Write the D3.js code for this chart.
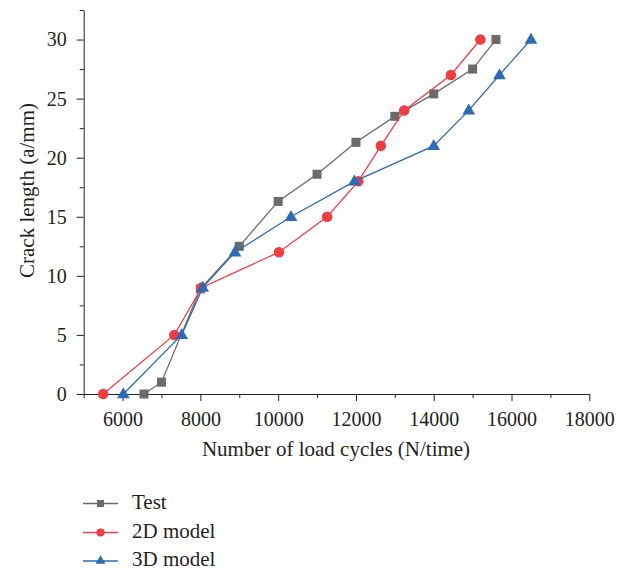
<!DOCTYPE html>
<html>
<head>
<meta charset="utf-8">
<script src="https://cdn.jsdelivr.net/npm/d3@7"></script>
<style>
  body { margin: 0; background: #fff; }
  svg { display: block; }
  text { font-family: "Liberation Serif", "DejaVu Serif", serif; fill: #231f20; }
</style>
</head>
<body>
<svg id="chart" width="624" height="570"></svg>
<script>
// ---- Data ----
const testN = [6550, 7000, 8000, 9000, 10000, 11000, 12000, 13000, 14000, 15000, 15600];
const testA = [0, 1, 8.9, 12.5, 16.3, 18.6, 21.3, 23.5, 25.4, 27.5, 30];
const model2dN = [5500, 7330, 8030, 10020, 11260, 12060, 12640, 13240, 14440, 15200];
const model2dA = [0, 5, 9, 12, 15, 18, 21, 24, 27, 30];
const model3dN = [6020, 7520, 8060, 8890, 10330, 11960, 14000, 14900, 15690, 16500];
const model3dA = [0, 5, 9, 12, 15, 18, 21, 24, 27, 30];
const xTicks = [6000, 8000, 10000, 12000, 14000, 16000, 18000];
const yTicks = [0, 5, 10, 15, 20, 25, 30];
const seriesNames = ["Test", "2D model", "3D model"];
const seriesColors = ["#6b6b6e", "#ee3e44", "#2f6ab5"];
const seriesShapes = ["square", "circle", "triangle"];

// ---- Layout ----
const svg = d3.select("#chart");
const mLeft = 83.7, mRight = 589.3, mTop = 10, mBottom = 394;
const x = d3.scaleLinear().domain([5000, 18000]).range([mLeft, mRight]);
const y = d3.scaleLinear().domain([0, 32.5]).range([mBottom, mTop]);
const axisColor = "#231f20";
const tickFont = 20;
const titleFont = 21;
const fontFam = "'Liberation Serif', 'DejaVu Serif', serif";

// minor ticks
const xMinor = d3.range(5000, 18001, 1000).filter(v => !xTicks.includes(v));
const yMinor = d3.range(0, 32.51, 2.5).filter(v => !yTicks.includes(v));

// X axis
const gx = svg.append("g").attr("transform", `translate(0,${mBottom})`);
gx.call(d3.axisBottom(x).tickValues(xTicks).tickFormat(d3.format("d")).tickSize(7).tickPadding(11).tickSizeOuter(0));
gx.append("g").call(d3.axisBottom(x).tickValues(xMinor).tickSize(4).tickFormat("").tickSizeOuter(0))
  .select(".domain").remove();
gx.attr("font-family", fontFam);
gx.selectAll("text").attr("font-size", tickFont).attr("font-family", fontFam).attr("fill", axisColor);
gx.selectAll("line,path").attr("stroke", axisColor);

// Y axis
const gy = svg.append("g").attr("transform", `translate(${mLeft},0)`);
gy.call(d3.axisLeft(y).tickValues(yTicks).tickFormat(d3.format("d")).tickSize(7).tickPadding(10).tickSizeOuter(0));
gy.append("g").call(d3.axisLeft(y).tickValues(yMinor).tickSize(4).tickFormat("").tickSizeOuter(0))
  .select(".domain").remove();
gy.attr("font-family", fontFam);
gy.selectAll("text").attr("font-size", tickFont).attr("font-family", fontFam).attr("fill", axisColor);
gy.selectAll("line,path").attr("stroke", axisColor);

// Axis titles
svg.append("text")
  .attr("x", 336).attr("y", 456)
  .attr("text-anchor", "middle").attr("font-size", titleFont)
  .text("Number of load cycles (N/time)");
svg.append("text")
  .attr("transform", `translate(34,190.5) rotate(-90)`)
  .attr("text-anchor", "middle").attr("font-size", titleFont)
  .text("Crack length (a/mm)");

// ---- Series ----
const series = [
  { n: testN, a: testA },
  { n: model2dN, a: model2dA },
  { n: model3dN, a: model3dA }
];

function symbolFor(shape, scale) {
  if (shape === "square") return d3.symbol().type(d3.symbolSquare).size(82 * scale)();
  if (shape === "circle") return d3.symbol().type(d3.symbolCircle).size(88 * scale)();
  return d3.symbol().type(d3.symbolTriangle).size(70 * scale)();
}

const line = d3.line().x(d => x(d[0])).y(d => y(d[1]));

series.forEach((s, i) => {
  const pts = s.n.map((v, k) => [v, s.a[k]]);
  const g = svg.append("g");
  g.append("path").datum(pts)
    .attr("d", line).attr("fill", "none")
    .attr("stroke", seriesColors[i]).attr("stroke-width", 1.3);
  g.selectAll("path.m").data(pts).enter().append("path")
    .attr("class", "m")
    .attr("d", symbolFor(seriesShapes[i], 1))
    .attr("transform", d => `translate(${x(d[0])},${y(d[1]) + (seriesShapes[i] === "triangle" ? 0.5 : 0)})`)
    .attr("fill", seriesColors[i]);
});

// ---- Legend ----
const legendY = [503.5, 532.5, 561];
seriesNames.forEach((name, i) => {
  const g = svg.append("g").attr("transform", `translate(0,${legendY[i]})`);
  g.append("line").attr("x1", 83).attr("x2", 118).attr("y1", 0).attr("y2", 0)
    .attr("stroke", seriesColors[i]).attr("stroke-width", 1.3);
  g.append("path").attr("d", symbolFor(seriesShapes[i], 0.6))
    .attr("transform", "translate(100.5,0)").attr("fill", seriesColors[i]);
  g.append("text").attr("x", 132).attr("y", 5)
    .attr("font-size", titleFont).text(name);
});
</script>
</body>
</html>
